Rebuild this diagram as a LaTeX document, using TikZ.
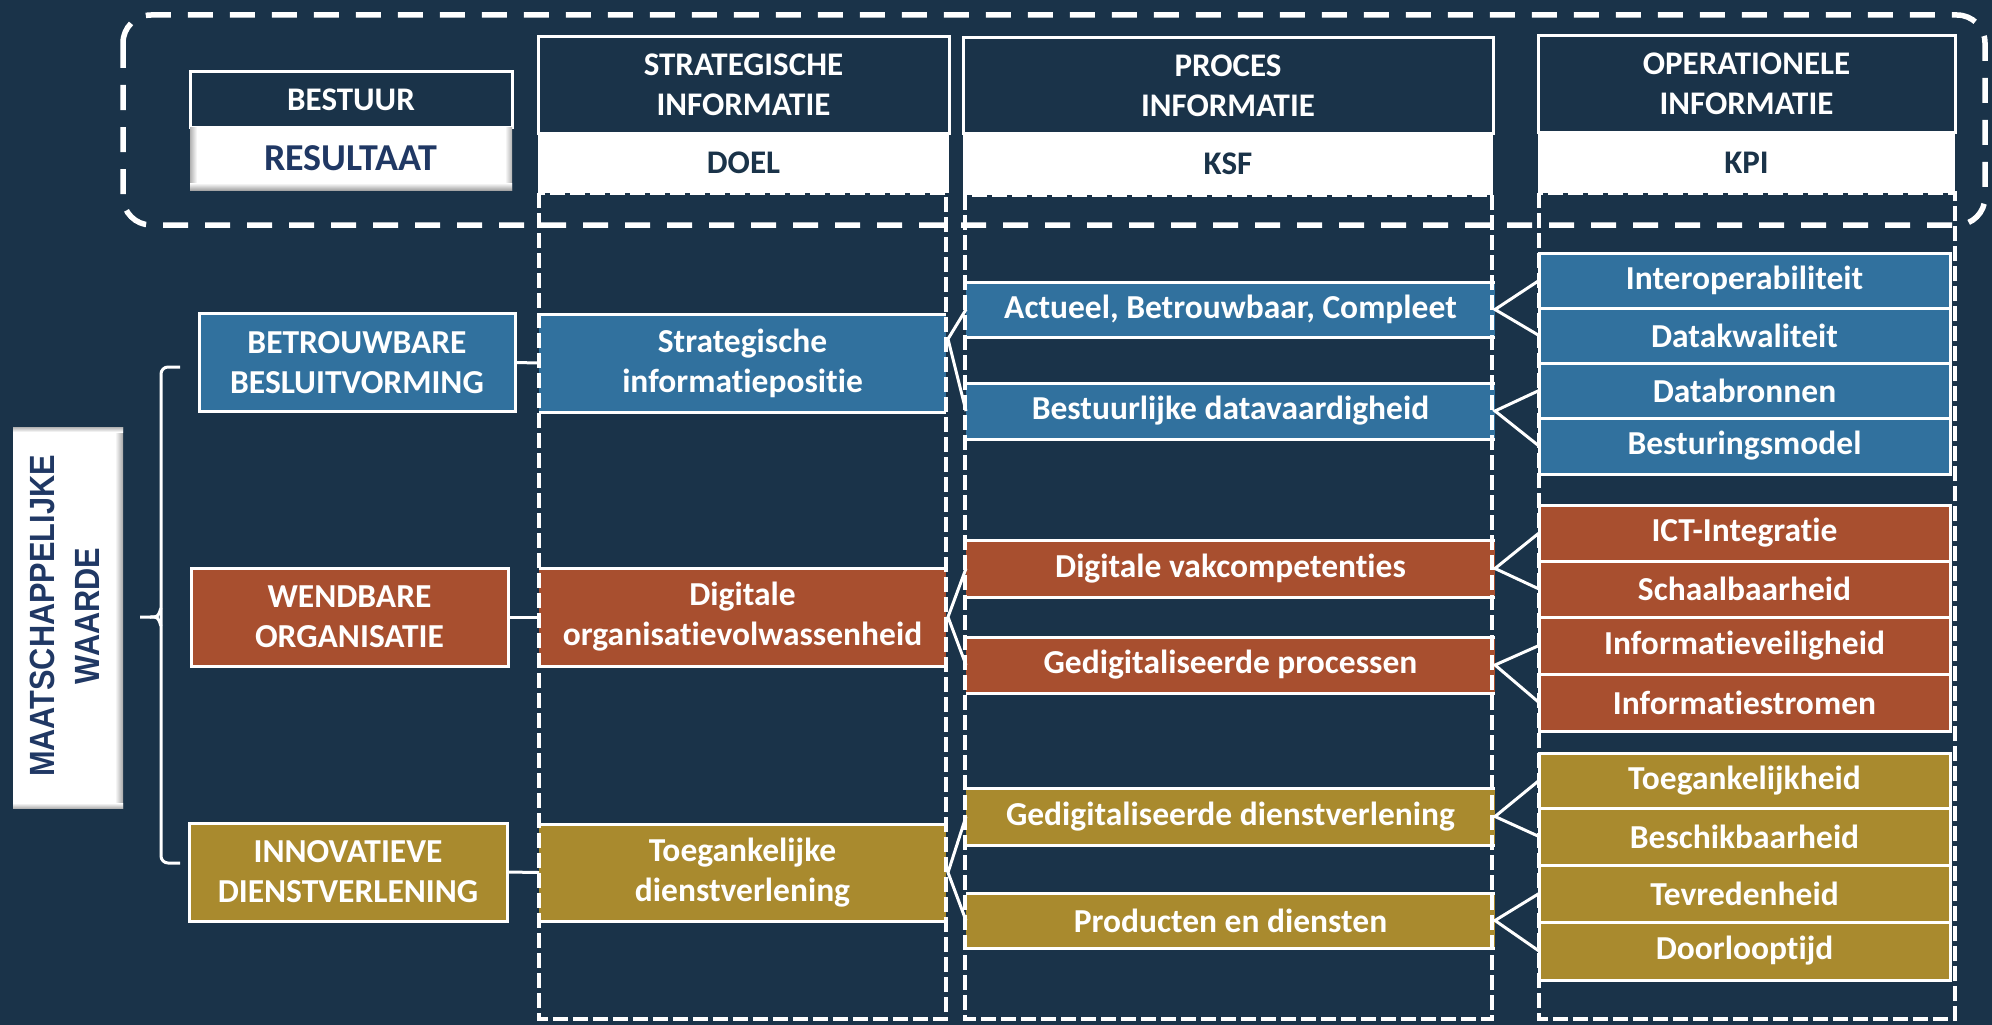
\documentclass[tikz,border=0pt]{standalone}
\usepackage{fontspec}
\setmainfont[Ligatures=NoCommon]{Carlito}
\newfontfamily\wfont{Liberation Sans}
\usetikzlibrary{calc}
\definecolor{bg}{RGB}{26,51,73}
\definecolor{cblue}{RGB}{49,113,158}
\definecolor{crust}{RGB}{168,79,47}
\definecolor{cgold}{RGB}{169,138,46}
\definecolor{navy}{RGB}{32,56,100}
\begin{document}
\begin{tikzpicture}[x=1pt,y=-1pt,
  every node/.style={inner sep=0pt, outer sep=0pt},
  boxtxt/.style={font=\bfseries\fontsize{33.5}{40}\selectfont, text=white, align=center},
  fullbox/.style={boxtxt, rectangle, draw=white, line width=3pt},
  colbox/.style={boxtxt, rectangle},
  link/.style={draw=white, line width=3pt},
  coldash/.style={draw=white, line width=3.5pt, dash pattern=on 15pt off 5pt},
  topdash/.style={draw=white, line width=5.5pt, dash pattern=on 25pt off 17pt, rounded corners=28pt},
  hdtop/.style={rectangle, draw=white, line width=3pt, fill=bg, text=white, align=center, font=\bfseries\fontsize{33}{40}\selectfont},
  hdbot/.style={rectangle, fill=white, text=bg, align=center, font=\bfseries\fontsize{33}{40}\selectfont},
]
\useasboundingbox (0,0) rectangle (1992,1025);
\fill[bg] (0,0) rectangle (1992,1025);

% ---- left value box
\node[rectangle, fill=white, minimum width=110pt, minimum height=381pt] (mw) at (68,617.5) {};
\shade[left color=white, right color=gray!70] (115,427) rectangle (123,808);
\shade[top color=gray!60, bottom color=white] (13,427) rectangle (123,432);
\shade[top color=white, bottom color=gray!60] (13,803) rectangle (123,808);
\node[rotate=90, text=navy, font=\wfont\bfseries\fontsize{30.7}{40}\selectfont] (mwt) at (68,616)
  {\scalebox{1}[1.14]{\begin{tabular}{@{}c@{}}MAATSCHAPPELIJKE\\WAARDE\end{tabular}}};

% ---- bracket
\coordinate (bt) at (180,367);
\coordinate (bb) at (180,863);
\coordinate (bn) at (140,617);
\draw[link, rounded corners=7pt] (bt) -- (161,367) -- (161,863) -- (bb);
\draw[link] (bn) -- (150,617) .. controls (158,617) .. (161,608);
\draw[link] (150,617) .. controls (158,617) .. (161,626);

% ---- row boxes
\node[fullbox, fill=cblue, minimum width=316pt, minimum height=98pt] (r1) at (357,362.5) {BETROUWBARE\\BESLUITVORMING};
\node[fullbox, fill=crust, minimum width=317pt, minimum height=98pt] (r2) at (349.5,617) {WENDBARE\\ORGANISATIE};
\node[fullbox, fill=cgold, minimum width=318pt, minimum height=98pt] (r3) at (348,872) {INNOVATIEVE\\DIENSTVERLENING};

% ---- doel boxes
\node[colbox, fill=cblue, minimum width=407pt, minimum height=98pt] (d1) at (742.5,363) {Strategische\\informatiepositie};
\node[colbox, fill=crust, minimum width=407pt, minimum height=98pt] (d2) at (742.5,617) {Digitale\\organisatievolwassenheid};
\node[colbox, fill=cgold, minimum width=407pt, minimum height=97pt] (d3) at (742.5,872.5) {Toegankelijke\\dienstverlening};

% ---- KSF boxes
\node[colbox, fill=cblue, minimum width=529pt, minimum height=55pt] (k1) at (1230.5,309.5) {Actueel, Betrouwbaar, Compleet};
\node[colbox, fill=cblue, minimum width=529pt, minimum height=56pt] (k2) at (1230.5,411) {Bestuurlijke datavaardigheid};
\node[colbox, fill=crust, minimum width=529pt, minimum height=57pt] (k3) at (1230.5,568.5) {Digitale vakcompetenties};
\node[colbox, fill=crust, minimum width=529pt, minimum height=56pt] (k4) at (1230.5,665) {Gedigitaliseerde processen};
\node[colbox, fill=cgold, minimum width=529pt, minimum height=57pt] (k5) at (1230.5,816.5) {Gedigitaliseerde dienstverlening};
\node[colbox, fill=cgold, minimum width=529pt, minimum height=55pt] (k6) at (1230.5,920.5) {Producten en diensten};

\foreach \n in {d1,d2,d3,k1,k2,k3,k4,k5,k6}{
  \draw[link] (\n.north west) -- (\n.north east);
  \draw[link] (\n.south west) -- (\n.south east);
}

% ---- KPI boxes
\node[fullbox, fill=cblue, minimum width=411pt, minimum height=55pt] (p1) at (1744.5,280.5) {Interoperabiliteit};
\node[fullbox, fill=cblue, minimum width=411pt, minimum height=55pt] (p2) at (1744.5,335.5) {Datakwaliteit};
\node[fullbox, fill=cblue, minimum width=411pt, minimum height=55pt] (p3) at (1744.5,390.5) {Databronnen};
\node[fullbox, fill=cblue, minimum width=411pt, minimum height=56pt] (p4) at (1744.5,446) {Besturingsmodel};
\node[fullbox, fill=crust, minimum width=411pt, minimum height=56pt] (p5) at (1744.5,533) {ICT-Integratie};
\node[fullbox, fill=crust, minimum width=411pt, minimum height=56pt] (p6) at (1744.5,589) {Schaalbaarheid};
\node[fullbox, fill=crust, minimum width=411pt, minimum height=57pt] (p7) at (1744.5,645.5) {Informatieveiligheid};
\node[fullbox, fill=crust, minimum width=411pt, minimum height=57pt] (p8) at (1744.5,702.5) {Informatiestromen};
\node[fullbox, fill=cgold, minimum width=411pt, minimum height=55pt] (p9) at (1744.5,780.5) {Toegankelijkheid};
\node[fullbox, fill=cgold, minimum width=411pt, minimum height=57pt] (p10) at (1744.5,836.5) {Beschikbaarheid};
\node[fullbox, fill=cgold, minimum width=411pt, minimum height=57pt] (p11) at (1744.5,893.5) {Tevredenheid};
\node[fullbox, fill=cgold, minimum width=411pt, minimum height=58pt] (p12) at (1744.5,951) {Doorlooptijd};

% ---- connectors
\draw[link] (r1.east) -- (d1.west);
\draw[link] (r2.east) -- (d2.west);
\draw[link] (r3.east) -- (d3.west);

\draw[link] (k1.west) -- ([yshift=24pt,xshift=2pt]d1.east) -- (k2.west);
\draw[link] (k3.west) -- ([xshift=2pt]d2.east) -- (k4.west);
\draw[link] (k5.west) -- ([xshift=2pt]d3.east) -- (k6.west);

\draw[link] (p1.west) -- (k1.east) -- (p2.west);
\draw[link] (p3.west) -- (k2.east) -- (p4.west);
\draw[link] (p5.west) -- (k3.east) -- (p6.west);
\draw[link] (p7.west) -- (k4.east) -- (p8.west);
\draw[link] (p9.west) -- (k5.east) -- (p10.west);
\draw[link] (p11.west) -- (k6.east) -- (p12.west);

% ---- dashed columns
\draw[coldash] (539,193) rectangle (946,1019);
\draw[coldash] (965,195) rectangle (1492,1019);
\draw[coldash] (1539,193) rectangle (1955,1019);

% ---- top dashed frame
\draw[topdash] (123,15) rectangle (1985,225);

% ---- headers
\node[hdtop, minimum width=322pt, minimum height=55pt] (h0t) at (351,99.5) {BESTUUR};
\node[hdbot, text=navy, font=\bfseries\fontsize{38}{40}\selectfont, minimum width=322pt, minimum height=63pt] (h0b) at (351,158.5) {RESULTAAT};
\shade[left color=gray!60, right color=white] (190,127) rectangle (197,190);
\shade[left color=white, right color=gray!60] (505,127) rectangle (512,190);
\shade[top color=white, bottom color=gray!70] (190,183) rectangle (512,190);

\node[hdtop, minimum width=411pt, minimum height=96pt] (h1t) at (743.5,85) {STRATEGISCHE\\INFORMATIE};
\node[hdbot, minimum width=411pt, minimum height=60pt] (h1b) at (743.5,163) {DOEL};
\node[hdtop, minimum width=530pt, minimum height=95pt] (h2t) at (1228,85.5) {PROCES\\INFORMATIE};
\node[hdbot, minimum width=530pt, minimum height=62pt] (h2b) at (1228,164) {KSF};
\node[hdtop, minimum width=417pt, minimum height=96pt] (h3t) at (1746.5,84) {OPERATIONELE\\INFORMATIE};
\node[hdbot, minimum width=417pt, minimum height=61pt] (h3b) at (1746.5,162.5) {KPI};
\end{tikzpicture}
\end{document}
